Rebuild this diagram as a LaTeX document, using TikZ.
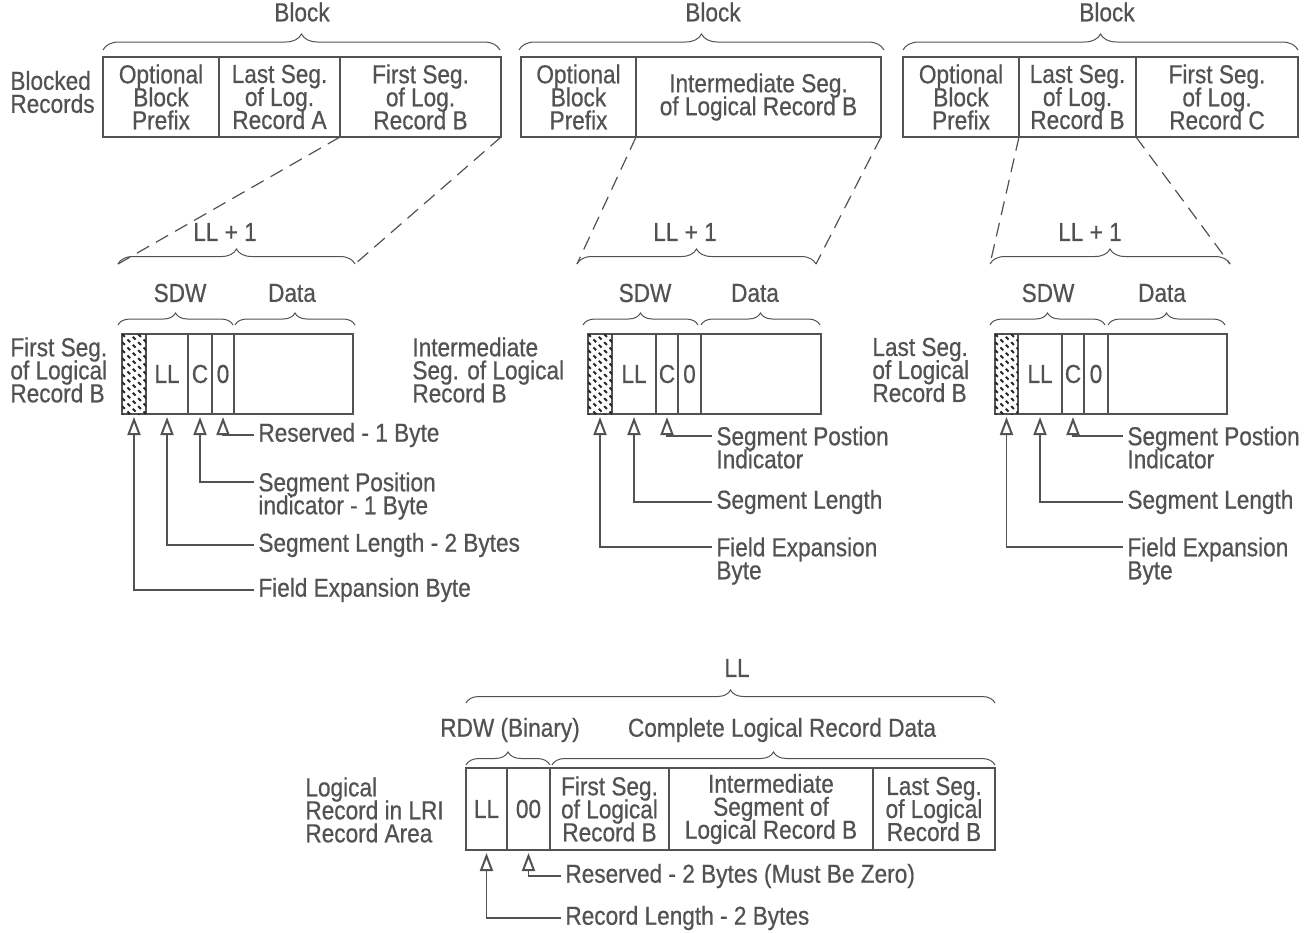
\documentclass[tikz,border=0pt]{standalone}
\usepackage{fontspec}
\setmainfont{Liberation Sans}[FakeStretch=0.87, FakeBold=0.6]
\usepackage{xcolor}
\usetikzlibrary{arrows.meta,positioning,decorations.pathreplacing}
\definecolor{ink}{gray}{0.32}
\lineskiplimit=-20pt
\newcommand{\hatchcell}[1]{%
  \begin{scope}
    \clip (#1.south west) rectangle (#1.north east);
    \foreach \k in {0,4,...,56}
      \draw[hatch] ([yshift=\k pt]#1.south west) -- ++(40,40);
  \end{scope}}

\begin{document}
\begin{tikzpicture}[x=0.5pt, y=-0.5pt, font=\fontsize{13pt}{11.5pt}\selectfont, text=ink,
  cell/.style={draw=ink, line width=0.6pt, anchor=north west, inner sep=0pt, outer sep=0pt, minimum height=40pt, align=center},
  side/.style={anchor=west, inner sep=0pt, align=left},
  lbl/.style={anchor=west, inner sep=2pt, align=left},
  lbltwo/.style={lbl, anchor=north west},
  brc/.style={draw=ink, line width=0.5pt, decorate, decoration={brace, amplitude=#1}},
  zoomln/.style={draw=ink, line width=0.6pt, dash pattern=on 7pt off 4pt},
  call/.style={draw=ink, line width=0.8pt, shorten >=1.5pt, -{Triangle[open, length=9pt, width=6.5pt, line width=1pt]}},
  hatch/.style={draw=black!85, line width=1pt, dash pattern=on 2pt off 1.8pt}]
\useasboundingbox (0,0) rectangle (1304,932);

% blocked records
\node[side] (recs) at (10,92) {Blocked\\Records};
\node[cell, minimum width=58pt] (b1p) at (103,57) {Optional\\Block\\Prefix};
\node[cell, minimum width=60.5pt, right=0pt of b1p] (b1a) {Last Seg.\\of Log.\\Record A};
\node[cell, minimum width=80.5pt, right=0pt of b1a] (b1b) {First Seg.\\of Log.\\Record B};
\node[cell, minimum width=57.5pt] (b2p) at (521,57) {Optional\\Block\\Prefix};
\node[cell, minimum width=122.5pt, right=0pt of b2p] (b2m) {Intermediate Seg.\\of Logical Record B};
\node[cell, minimum width=58pt] (b3p) at (903,57) {Optional\\Block\\Prefix};
\node[cell, minimum width=58.5pt, right=0pt of b3p] (b3a) {Last Seg.\\of Log.\\Record B};
\node[cell, minimum width=81pt, right=0pt of b3a] (b3b) {First Seg.\\of Log.\\Record C};
\node (blk1) at (302,12) {Block};
\node (blk2) at (713,12) {Block};
\node (blk3) at (1107,12) {Block};
\draw[brc=8pt] (103,50) -- (500,50);
\draw[brc=8pt] (519,50) -- (884,50);
\draw[brc=8pt] (903,50) -- (1298,50);

% segment descriptors
\coordinate (z1l) at (118,264); \coordinate (z1r) at (355,264);
\coordinate (z2l) at (577,264); \coordinate (z2r) at (816,264);
\coordinate (z3l) at (990,264); \coordinate (z3r) at (1230,264);
\draw[zoomln] (b1a.south east) -- (z1l);
\draw[zoomln] (b1b.south east) -- (z1r);
\draw[zoomln] (b2p.south east) -- (z2l);
\draw[zoomln] (b2m.south east) -- (z2r);
\draw[zoomln] (b3p.south east) -- (z3l);
\draw[zoomln] (b3a.south east) -- (z3r);
\draw[brc=7.5pt] (z1l) -- (z1r);
\draw[brc=7.5pt] (z2l) -- (z2r);
\draw[brc=7.5pt] (z3l) -- (z3r);
\node (ll1) at (225,232) {LL + 1};
\node (ll2) at (685,232) {LL + 1};
\node (ll3) at (1090,232) {LL + 1};

\node (sdw1) at (180,293) {SDW};  \node (dat1) at (292,293) {Data};
\node (sdw2) at (645,293) {SDW};  \node (dat2) at (755,293) {Data};
\node (sdw3) at (1048,293) {SDW}; \node (dat3) at (1162,293) {Data};
\draw[brc=6pt] (118,325) -- (233,325);  \draw[brc=6pt] (235,325) -- (355,325);
\draw[brc=6pt] (583,325) -- (698,325);  \draw[brc=6pt] (701,325) -- (820,325);
\draw[brc=6pt] (990,325) -- (1105,325); \draw[brc=6pt] (1108,325) -- (1225,325);

\node[side] (s1name) at (10,370) {First Seg.\\of Logical\\Record B};
\node[cell, minimum width=12pt] (s1h) at (122,334) {};
\node[cell, minimum width=21pt, right=0pt of s1h] (s1l) {LL};
\node[cell, minimum width=12pt, right=0pt of s1l] (s1c) {C};
\node[cell, minimum width=11pt, right=0pt of s1c] (s1z) {0};
\node[cell, minimum width=59.5pt, right=0pt of s1z] (s1d) {};
\hatchcell{s1h}

\node[side] (s2name) at (412,370) {Intermediate\\Seg. of Logical\\Record B};
\node[cell, minimum width=12pt] (s2h) at (588,334) {};
\node[cell, minimum width=22pt, right=0pt of s2h] (s2l) {LL};
\node[cell, minimum width=11pt, right=0pt of s2l] (s2c) {C};
\node[cell, minimum width=11.5pt, right=0pt of s2c] (s2z) {0};
\node[cell, minimum width=60pt, right=0pt of s2z] (s2d) {};
\hatchcell{s2h}

\node[side] (s3name) at (872,370) {Last Seg.\\of Logical\\Record B};
\node[cell, minimum width=11.5pt] (s3h) at (995,334) {};
\node[cell, minimum width=22pt, right=0pt of s3h] (s3l) {LL};
\node[cell, minimum width=11pt, right=0pt of s3l] (s3c) {C};
\node[cell, minimum width=12pt, right=0pt of s3c] (s3z) {0};
\node[cell, minimum width=59.5pt, right=0pt of s3z] (s3d) {};
\hatchcell{s3h}

% callouts
\node[lbl] (r1) at (254,435) {Reserved - 1 Byte};
\node[lbltwo] (p1) at (254,468) {Segment Position\\indicator - 1 Byte};
\node[lbl] (l1) at (254,545) {Segment Length - 2 Bytes};
\node[lbl] (f1) at (254,590) {Field Expansion Byte};
\draw[call] (r1.west) -| (s1z.south);
\draw[call] ([yshift=-7pt]p1.north west) -| (s1c.south);
\draw[call] (l1.west) -| (s1l.south);
\draw[call] (f1.west) -| (s1h.south);

\node[lbltwo] (p2) at (712,422) {Segment Postion\\Indicator};
\node[lbl] (l2) at (712,502) {Segment Length};
\node[lbltwo] (f2) at (712,533) {Field Expansion\\Byte};
\draw[call] ([yshift=-7pt]p2.north west) -| (s2c.south);
\draw[call] (l2.west) -| (s2l.south);
\draw[call] ([yshift=-7pt]f2.north west) -| (s2h.south);

\node[lbltwo] (p3) at (1123,422) {Segment Postion\\Indicator};
\node[lbl] (l3) at (1123,502) {Segment Length};
\node[lbltwo] (f3) at (1123,533) {Field Expansion\\Byte};
\draw[call] ([yshift=-7pt]p3.north west) -| (s3c.south);
\draw[call] (l3.west) -| (s3l.south);
\draw[call] ([yshift=-7pt]f3.north west) -| (s3h.south);

% logical record in LRI record area
\node (llt) at (737,668) {LL};
\draw[brc=6.5pt] (466,703) -- (995,703);
\node (rdw) at (510,730) {RDW (Binary)};
\node (cplt) at (782,730) {Complete Logical Record Data};
\draw[brc=6.5pt] (466,765) -- (550,765);
\draw[brc=6.5pt] (552,765) -- (995,765);

\node[side] (lriname) at (305,810) {Logical\\Record in LRI\\Record Area};
\node[cell, minimum width=20.5pt, minimum height=41pt] (rl) at (466,768) {LL};
\node[cell, minimum width=21.5pt, minimum height=41pt, right=0pt of rl] (rz) {00};
\node[cell, minimum width=59.5pt, minimum height=41pt, right=0pt of rz] (rf) {First Seg.\\of Logical\\Record B};
\node[cell, minimum width=102pt, minimum height=41pt, right=0pt of rf] (ri) {Intermediate\\Segment of\\Logical Record B};
\node[cell, minimum width=61pt, minimum height=41pt, right=0pt of ri] (rla) {Last Seg.\\of Logical\\Record B};

\node[lbl] (mz) at (561,876) {Reserved - 2 Bytes (Must Be Zero)};
\node[lbl] (mlen) at (561,918) {Record Length - 2 Bytes};
\draw[call] (mz.west) -| (rz.south);
\draw[call] (mlen.west) -| (rl.south);
\end{tikzpicture}
\end{document}
